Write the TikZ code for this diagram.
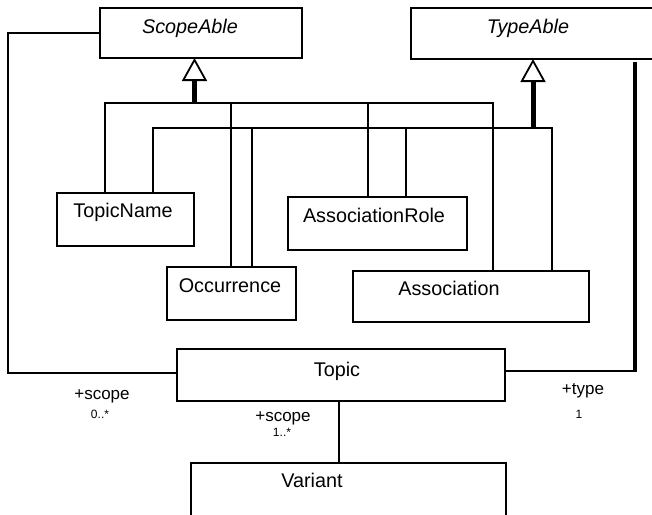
\documentclass[tikz,border=0pt]{standalone}
\usepackage{fontspec}
\setmainfont{Liberation Sans}
\usetikzlibrary{arrows.meta,calc}
\begin{document}
\begin{tikzpicture}[x=1pt,y=-1pt,
  classbox/.style={draw, line width=2pt, rectangle, inner sep=0pt, outer sep=0pt},
  clsname/.style={font=\fontsize{19.8}{22}\selectfont, inner sep=0pt, anchor=base},
  abstractname/.style={font=\fontsize{19.8}{22}\selectfont\itshape, inner sep=0pt, anchor=base},
  rolename/.style={font=\fontsize{17}{20}\selectfont, inner sep=0pt, anchor=base},
  mult/.style={font=\fontsize{12}{14}\selectfont, inner sep=0pt, anchor=base},
  link/.style={line width=1.4pt},
  inherit/.style={line width=5pt, -{Triangle[open,length=23pt,width=25pt,line width=1.8pt]}},
  heavy/.style={line width=4pt}]
\useasboundingbox (0,0) rectangle (652,514);
\clip (0,0) rectangle (652,514);

% class boxes
\node[classbox, minimum width=202pt, minimum height=50pt] (sa) at (201,33) {};
\node[classbox, minimum width=249pt, minimum height=51pt] (ta) at (535.5,33.5) {};
\node[classbox, minimum width=137pt, minimum height=53pt] (tn) at (125.5,219.5) {};
\node[classbox, minimum width=129pt, minimum height=53pt] (oc) at (231.5,293.5) {};
\node[classbox, minimum width=179pt, minimum height=53pt] (ar) at (377.5,223.5) {};
\node[classbox, minimum width=236pt, minimum height=51pt] (as) at (471,296.5) {};
\node[classbox, minimum width=328pt, minimum height=52pt] (tp) at (341,375) {};
\node[classbox, minimum width=315pt, minimum height=67pt] (va) at (348.5,496.5) {};

% class names
\node[abstractname] (saname) at (190,33) {ScopeAble};
\node[abstractname] (taname) at (528,33) {TypeAble};
\node[clsname] (tnname) at (123,217) {TopicName};
\node[clsname] (ocname) at (230,292) {Occurrence};
\node[clsname] (arname) at (374,222) {AssociationRole};
\node[clsname] (asname) at (449,295) {Association};
\node[clsname] (tpname) at (337,376) {Topic};
\node[clsname] (vaname) at (312,487) {Variant};

% attachment points on the top edges of the subclasses
\coordinate (tn1) at ($(tn.north west)+(48,0)$);
\coordinate (tn2) at ($(tn.north west)+(96,0)$);
\coordinate (oc1) at ($(oc.north west)+(64,0)$);
\coordinate (oc2) at ($(oc.north west)+(85,0)$);
\coordinate (ar1) at ($(ar.north west)+(80,0)$);
\coordinate (ar2) at ($(ar.north west)+(118,0)$);
\coordinate (as1) at ($(as.north west)+(140,0)$);
\coordinate (as2) at ($(as.north west)+(199,0)$);

% generalisation to ScopeAble
\coordinate (sabus) at (194.5,103);
\draw[inherit] (sabus) -- (sabus |- sa.south);
\draw[link] (tn1) |- (sabus) -| (as1);
\draw[link] (oc1) -- (oc1 |- sabus);
\draw[link] (ar1) -- (ar1 |- sabus);

% generalisation to TypeAble
\coordinate (tabus) at (533,128);
\draw[inherit] (tabus) -- (tabus |- ta.south);
\draw[link] (tn2) |- (tabus) -| (as2);
\draw[link] (oc2) -- (oc2 |- tabus);
\draw[link] (ar2) -- (ar2 |- tabus);

% Topic scope association
\draw[link] ([yshift=2pt]tp.west) -- ++(-169,0) |- (sa.west);
\node[rolename] (scoperole) at (102,399) {+scope};
\node[mult] (scopemult) at (100,418) {0..*};

% Topic type association
\coordinate (tcorner) at ([yshift=4pt]tp.east -| 635,0);
\draw[link] ([yshift=4pt]tp.east) -- (tcorner);
\draw[heavy, shorten >=3pt] ([yshift=-1pt]tcorner) -- (tcorner |- ta.south);
\node[rolename] (typerole) at (583,394) {+type};
\node[mult] (typemult) at (579,418) {1};

% Variant scope association
\draw[link] ([xshift=-2pt]tp.south) -- ([xshift=-2pt]tp.south |- va.north);
\node[rolename] (vscoperole) at (283,421) {+scope};
\node[mult] (vscopemult) at (282,436) {1..*};
\end{tikzpicture}
\end{document}
